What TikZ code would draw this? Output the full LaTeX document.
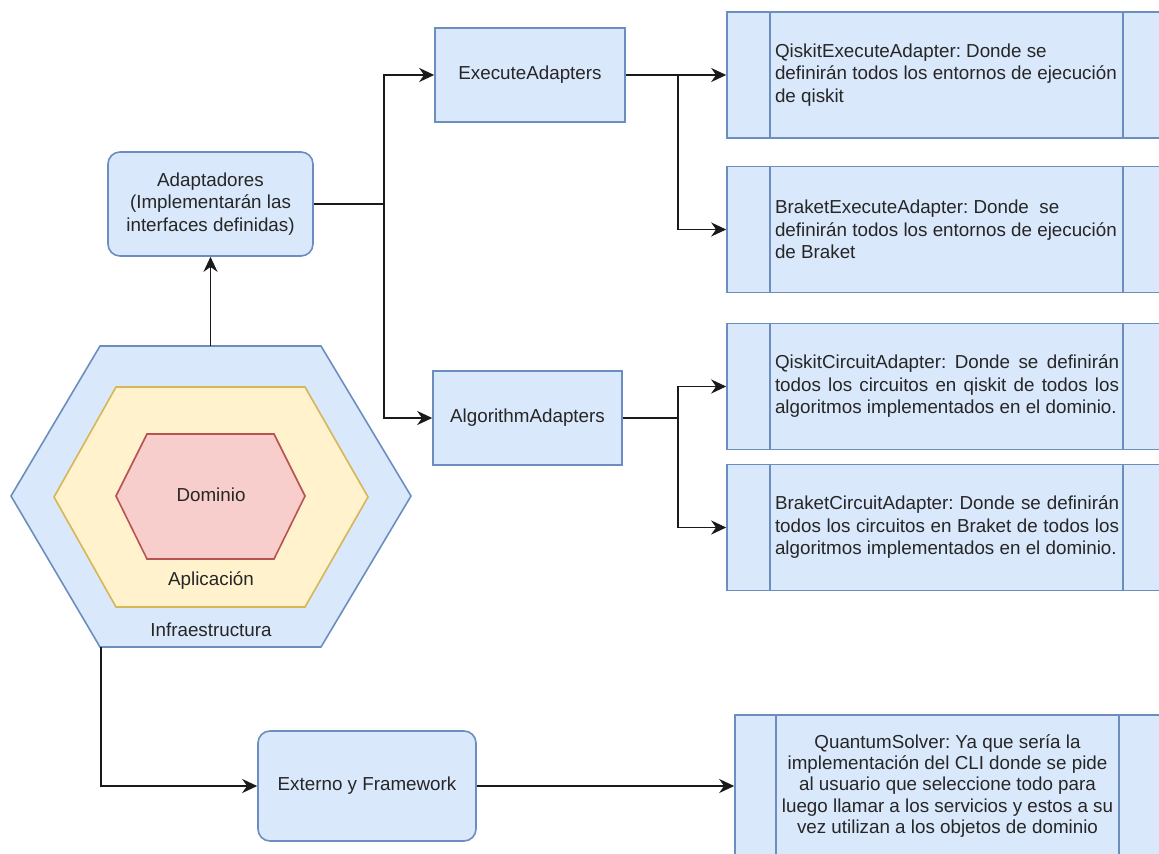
\documentclass[tikz,border=0pt]{standalone}
\usepackage{fontspec}
\setmainfont{Liberation Sans}
\usetikzlibrary{arrows.meta}
\definecolor{bfill}{HTML}{DAE8FC}
\definecolor{bdraw}{HTML}{6C8EBF}
\definecolor{yfill}{HTML}{FFF2CC}
\definecolor{ydraw}{HTML}{D6B656}
\definecolor{rfill}{HTML}{F8CECC}
\definecolor{rdraw}{HTML}{B85450}
\definecolor{txt}{HTML}{262626}
\definecolor{lnc}{HTML}{1A1A1A}
\begin{document}
\frenchspacing
\begin{tikzpicture}[x=0.5pt,y=-0.5pt,
  every node/.style={font=\fontsize{9.4}{11.25}\selectfont, text=txt},
  box/.style={draw=bdraw, fill=bfill, line width=0.8pt, align=center, inner sep=0pt},
  rbox/.style={box, rounded corners=6pt},
  proc/.style={draw=bdraw, fill=bfill, line width=0.8pt, minimum height=63pt, minimum width=220pt, inner sep=0pt, align=left},
  arr/.style={draw=lnc, line width=0.95pt, -{Stealth[length=7.5pt,width=7pt,inset=2.4pt]}},
]
\useasboundingbox (0,0) rectangle (1159,854);

% hexagons
\draw[draw=bdraw, fill=bfill, line width=0.8pt] (11,496) -- (100,346) -- (321,346) -- (411,496) -- (321,647) -- (100,647) -- cycle;
\draw[draw=ydraw, fill=yfill, line width=0.8pt] (54,497) -- (116,387) -- (305,387) -- (368,497) -- (305,607) -- (116,607) -- cycle;
\draw[draw=rdraw, fill=rfill, line width=0.8pt] (116,496) -- (147,434) -- (274,434) -- (305,496) -- (274,559) -- (147,559) -- cycle;
\node (dom) at (211,495) {Dominio};
\node (apl) at (211,581) {Aplicación};
\node (inf) at (211,630) {Infraestructura};
\coordinate (hexTop) at (210.5,346);
\coordinate (hexBot) at (101,647);

% middle boxes
\node[rbox, minimum width=102.5pt, minimum height=52pt] (ad) at (210.5,204) {Adaptadores\\(Implementarán las\\interfaces definidas)};
\node[box, minimum width=95pt, minimum height=47pt] (ea) at (530,75) {ExecuteAdapters};
\node[box, minimum width=94.5pt, minimum height=47pt] (aa) at (527.5,418) {AlgorithmAdapters};
\node[rbox, minimum width=109pt, minimum height=55pt] (ex) at (367,786) {Externo y Framework};

% right process boxes
\node[proc] (qe) at (947,75) {\makebox[172pt][l]{QiskitExecuteAdapter: Donde se}\\definirán todos los entornos de ejecución\\de qiskit};
\node[proc] (be) at (947,229.5) {\makebox[172pt][l]{BraketExecuteAdapter: Donde\ \ se}\\definirán todos los entornos de ejecución\\de Braket};
\node[proc] (qc) at (947,386.5) {\makebox[172pt][s]{QiskitCircuitAdapter: Donde se definirán}\\\makebox[172pt][s]{todos los circuitos en qiskit de todos los}\\\makebox[172pt][l]{algoritmos implementados en el dominio.}};
\node[proc] (bc) at (947,527.5) {\makebox[172pt][s]{BraketCircuitAdapter: Donde se definirán}\\\makebox[172pt][s]{todos los circuitos en Braket de todos los}\\\makebox[172pt][l]{algoritmos implementados en el dominio.}};
\node[proc, minimum width=212.5pt, minimum height=71pt, align=center, font=\fontsize{9.4}{10.7}\selectfont] (qs) at (947.5,786) {QuantumSolver: Ya que sería la\\implementación del CLI donde se pide\\al usuario que seleccione todo para\\luego llamar a los servicios y estos a su\\vez utilizan a los objetos de dominio};
\foreach \n in {qe,be,qc,bc} {
  \draw[draw=bdraw, line width=0.8pt] ([xshift=22pt]\n.north west) -- ([xshift=22pt]\n.south west)
    ([xshift=-22.5pt]\n.north east) -- ([xshift=-22.5pt]\n.south east);
}
\draw[draw=bdraw, line width=0.8pt] ([xshift=21pt]qs.north west) -- ([xshift=21pt]qs.south west)
    ([xshift=-21pt]qs.north east) -- ([xshift=-21pt]qs.south east);

% connectors
\draw[arr] (hexTop) -- (ad.south);
\draw[arr] (ad.east) -- ++(70,0) |- (ea.west);
\draw[arr] (ad.east) -- ++(70,0) |- (aa.west);
\draw[arr] (ea.east) -- ++(52,0) |- (qe.west);
\draw[arr] (ea.east) -- ++(52,0) |- (be.west);
\draw[arr] (aa.east) -- ++(55,0) |- (qc.west);
\draw[arr] (aa.east) -- ++(55,0) |- (bc.west);
\draw[arr] (hexBot) |- (ex.west);
\draw[arr] (ex.east) -- (ex.east -| qs.west);
\end{tikzpicture}
\end{document}
